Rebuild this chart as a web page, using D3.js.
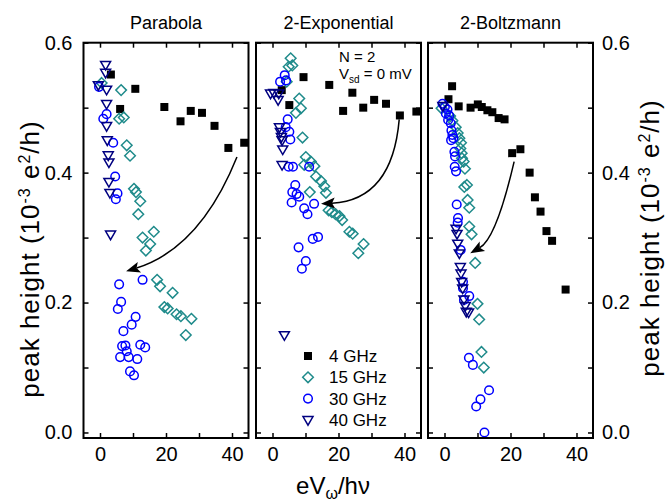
<!DOCTYPE html>
<html><head><meta charset="utf-8">
<script src="https://cdn.jsdelivr.net/npm/d3@7"></script>
<style>
body{margin:0;background:#fff;}
svg{display:block;font-family:"Liberation Sans",Arial,sans-serif;}
</style></head>
<body><svg id="c" width="666" height="502"></svg>
<script>
const panelTitles = ["Parabola", "2-Exponential", "2-Boltzmann"];
const seriesNames = ["4 GHz", "15 GHz", "30 GHz", "40 GHz"];
const xTicks = [0, 10, 20, 30, 40];
const xTickLabels = [0, 20, 40];
const yTicks = [0, 0.1, 0.2, 0.3, 0.4, 0.5, 0.6];
const yTickLabels = [0, 0.2, 0.4, 0.6];

// Parabola panel
const p1_4GHz = [[3.3,0.551],[10.7,0.529],[6.1,0.498],[19.5,0.501],[24.4,0.479],[27.5,0.495],[30.9,0.492],[34.7,0.472],[38.9,0.438],[43.7,0.446]];
const p1_15GHz = [[0.5,0.538],[6.4,0.527],[5.8,0.483],[7.2,0.485],[8.1,0.442],[9.1,0.426],[10.3,0.375],[10.9,0.370],[12.2,0.356],[11.6,0.336],[16.3,0.309],[12.9,0.300],[15.2,0.290],[13.9,0.280],[17.3,0.235],[18.2,0.225],[22.0,0.215],[19.5,0.193],[20.5,0.191],[23.2,0.182],[24.5,0.179],[27.7,0.175],[26.0,0.150]];
const p1_30GHz = [[-0.3,0.532],[2.0,0.490],[1.0,0.483],[4.0,0.446],[4.6,0.394],[5.3,0.368],[4.8,0.359],[5.8,0.228],[12.9,0.235],[6.4,0.201],[5.4,0.190],[10.8,0.178],[9.6,0.166],[7.1,0.156],[6.7,0.133],[7.7,0.134],[12.2,0.135],[13.7,0.131],[8.1,0.125],[6.1,0.116],[8.7,0.116],[11.3,0.113],[9.1,0.094],[10.3,0.088]];
const p1_40GHz = [[1.7,0.566],[1.7,0.554],[-0.5,0.535],[2.0,0.528],[2.0,0.506],[2.0,0.472],[2.2,0.450],[2.5,0.427],[2.7,0.416],[2.7,0.386],[3.0,0.369],[3.2,0.305]];

// 2-Exponential panel
const p2_4GHz = [[9.4,0.547],[2.8,0.527],[5.1,0.504],[17.2,0.535],[24.2,0.523],[21.4,0.495],[27.5,0.500],[30.8,0.512],[34.4,0.506],[38.6,0.488],[43.6,0.494]];
const p2_15GHz = [[5.5,0.576],[6.0,0.565],[4.9,0.563],[4.3,0.540],[8.1,0.514],[8.6,0.499],[7.1,0.492],[9.1,0.454],[10.1,0.424],[11.6,0.417],[12.7,0.410],[9.6,0.412],[13.2,0.394],[14.7,0.387],[15.7,0.379],[11.3,0.370],[16.2,0.369],[17.0,0.342],[18.0,0.339],[19.1,0.336],[20.3,0.333],[21.1,0.327],[23.3,0.309],[24.3,0.306],[27.6,0.290],[26.0,0.276]];
const p2_30GHz = [[3.7,0.550],[2.3,0.540],[4.1,0.542],[4.6,0.482],[4.0,0.470],[5.1,0.463],[5.4,0.451],[6.2,0.409],[4.9,0.409],[11.1,0.409],[6.9,0.381],[6.0,0.370],[8.1,0.363],[7.3,0.367],[5.8,0.354],[9.6,0.345],[10.6,0.336],[12.6,0.352],[7.9,0.285],[12.2,0.298],[13.8,0.301],[10.1,0.264],[8.9,0.252]];
const p2_40GHz = [[-0.6,0.522],[0.4,0.523],[1.9,0.522],[1.7,0.512],[2.1,0.470],[2.4,0.463],[2.7,0.455],[2.9,0.450],[3.1,0.436],[2.9,0.412],[3.6,0.150]];

// 2-Boltzmann panel
const p3_4GHz = [[2.3,0.533],[1.2,0.513],[4.3,0.502],[7.9,0.500],[10.1,0.505],[11.3,0.501],[13.0,0.496],[14.5,0.493],[16.4,0.484],[18.2,0.482],[20.5,0.430],[23.0,0.436],[25.8,0.400],[27.4,0.362],[29.1,0.340],[30.9,0.310],[32.6,0.295],[36.7,0.220]];
const p3_15GHz = [[-0.9,0.499],[1.7,0.487],[2.4,0.480],[3.4,0.470],[4.0,0.461],[4.5,0.453],[5.0,0.446],[4.8,0.437],[5.2,0.430],[5.3,0.422],[5.8,0.417],[6.2,0.406],[6.0,0.378],[6.8,0.381],[7.0,0.358],[7.5,0.346],[7.5,0.317],[8.2,0.305],[9.3,0.261],[10.0,0.198],[10.5,0.174],[11.2,0.124],[11.9,0.100]];
const p3_30GHz = [[-0.6,0.506],[0.1,0.501],[0.9,0.497],[0.4,0.491],[1.4,0.488],[1.1,0.481],[1.9,0.476],[2.1,0.465],[2.4,0.458],[2.7,0.453],[2.0,0.450],[3.0,0.432],[3.2,0.425],[3.1,0.409],[3.5,0.402],[3.7,0.351],[4.1,0.330],[4.0,0.323],[4.9,0.281],[5.6,0.232],[5.6,0.222],[7.5,0.210],[5.9,0.204],[7.4,0.115],[8.6,0.104],[13.5,0.065],[10.9,0.051],[9.6,0.040],[12.1,0.000]];
const p3_40GHz = [[-0.5,0.503],[3.5,0.314],[3.8,0.306],[4.0,0.291],[4.5,0.276],[4.8,0.255],[5.0,0.245],[5.2,0.232],[5.5,0.222],[5.9,0.205],[6.3,0.195],[6.6,0.186],[7.3,0.185]];

// Arrows (start, control, end) in data units
const arrows = [
  [[41.5,0.424],[30.4,0.284],[7.9,0.248]],
  [[38.4,0.482],[36.3,0.358],[14.7,0.352]],
  [[21.1,0.417],[15.7,0.299],[7.8,0.276]]
];

const panels = [
  [p1_4GHz, p1_15GHz, p1_30GHz, p1_40GHz],
  [p2_4GHz, p2_15GHz, p2_30GHz, p2_40GHz],
  [p3_4GHz, p3_15GHz, p3_30GHz, p3_40GHz]
];

const svg = d3.select("#c");
const colors = ["#000000", "#1f8b8b", "#0000ff", "#000080"];
const panelLefts = [83.5, 256, 428];
const panelW = 165;
const yTop = 42.7, yBottom = 438;
const y = d3.scaleLinear().domain([-0.0085, 0.6]).range([yBottom, yTop]);

function markerPath(i) {
  if (i === 0) return "M-4,-4H4V4H-4Z";
  if (i === 1) return "M0,-5.3L5.3,0L0,5.3L-5.3,0Z";
  if (i === 2) { const p = d3.path(); p.arc(0, 0, 4.3, 0, 2 * Math.PI); p.closePath(); return p.toString(); }
  return "M-5,-3.3L5,-3.3L0,5.3Z";
}

panels.forEach((series, pi) => {
  const L = panelLefts[pi];
  const x = d3.scaleLinear().domain([-5, 45]).range([L, L + panelW]);
  const g = svg.append("g");

  const axB = d3.axisBottom(x).tickValues(xTicks).tickSize(-5).tickPadding(9)
    .tickFormat(d => xTickLabels.includes(d) ? d : "");
  const axT = d3.axisTop(x).tickValues(xTicks).tickSize(-5).tickFormat("");
  const axL = d3.axisLeft(y).tickValues(yTicks).tickSize(-5).tickPadding(11)
    .tickFormat(d => (pi === 0 && yTickLabels.some(v => Math.abs(v-d)<1e-9)) ? d3.format(".1f")(d) : "");
  const axR = d3.axisRight(y).tickValues(yTicks).tickSize(-5).tickPadding(9)
    .tickFormat(d => (pi === 2 && yTickLabels.some(v => Math.abs(v-d)<1e-9)) ? d3.format(".1f")(d) : "");

  [[axB, `translate(0,${yBottom})`], [axT, `translate(0,${yTop})`], [axL, `translate(${L},0)`], [axR, `translate(${L+panelW},0)`]]
    .forEach(([ax, tr]) => {
      const a = g.append("g").attr("transform", tr).call(ax);
      a.select(".domain").remove();
      a.selectAll("line").attr("stroke", "#000").attr("stroke-width", 1.5);
      a.selectAll("text").attr("font-size", 20).attr("fill", "#000").attr("font-family", "Liberation Sans, Arial, sans-serif");
    });

  series.forEach((data, si) => {
    g.append("g").selectAll("path").data(data).join("path")
      .attr("d", markerPath(si))
      .attr("transform", d => `translate(${x(d[0])},${y(d[1])})`)
      .attr("fill", si === 0 ? colors[0] : "none")
      .attr("stroke", si === 0 ? "none" : colors[si])
      .attr("stroke-width", 1.5);
  });

  const [s, c, e] = arrows[pi];
  const P0 = [x(s[0]), y(s[1])], C = [x(c[0]), y(c[1])], P2 = [x(e[0]), y(e[1])];
  const dx = P2[0] - C[0], dy = P2[1] - C[1], len = Math.hypot(dx, dy);
  const ux = dx / len, uy = dy / len;
  const hl = 14, hw = 5.5;
  const base = [P2[0] - ux * hl, P2[1] - uy * hl];
  const p = d3.path();
  p.moveTo(P0[0], P0[1]);
  p.quadraticCurveTo(C[0], C[1], base[0] + ux * 3, base[1] + uy * 3);
  g.append("path").attr("d", p.toString()).attr("fill", "none").attr("stroke", "#000").attr("stroke-width", 1.5);
  g.append("path")
    .attr("d", `M${P2[0]},${P2[1]}L${base[0] - uy * hw},${base[1] + ux * hw}L${base[0] + ux*3},${base[1] + uy*3}L${base[0] + uy * hw},${base[1] - ux * hw}Z`)
    .attr("fill", "#000");

  g.append("rect").attr("x", L).attr("y", yTop).attr("width", panelW).attr("height", yBottom - yTop)
    .attr("fill", "none").attr("stroke", "#000").attr("stroke-width", 2);

  svg.append("text").attr("x", L + panelW / 2).attr("y", 29).attr("text-anchor", "middle")
    .attr("font-size", 18).text(panelTitles[pi]);
});

{
  const lx = 308, ly0 = 356, dyL = 21.3;
  seriesNames.forEach((name, si) => {
    const yy = ly0 + si * dyL;
    svg.append("path").attr("d", markerPath(si)).attr("transform", `translate(${lx},${yy})`)
      .attr("fill", si === 0 ? colors[0] : "none").attr("stroke", si === 0 ? "none" : colors[si]).attr("stroke-width", 1.5);
    svg.append("text").attr("x", lx + 21).attr("y", yy + 6).attr("font-size", 17).text(name);
  });
}

svg.append("text").attr("x", 339).attr("y", 62).attr("font-size", 15).text("N = 2");
{
  const t = svg.append("text").attr("x", 339).attr("y", 79).attr("font-size", 15);
  t.append("tspan").text("V");
  t.append("tspan").attr("font-size", 10).attr("dy", 4).text("sd");
  t.append("tspan").attr("dy", -4).text(" = 0 mV");
}

// y labels: centred on cy; baseline at baseX
function yLabel(baseX, cy, target) {
  const t = svg.append("text").attr("font-size", 26);
  t.append("tspan").text("peak height (10");
  t.append("tspan").attr("font-size", 16).attr("dy", -9).text("-3");
  t.append("tspan").attr("dy", 9).text(" e");
  t.append("tspan").attr("font-size", 16).attr("dy", -9).text("2");
  t.append("tspan").attr("dy", 9).text("/h)");
  let len = t.node().getComputedTextLength();
  const nChars = t.text().length;
  const ls = Math.max(-1, Math.min(1, (target - len) / nChars));
  t.attr("letter-spacing", ls);
  len = t.node().getComputedTextLength();
  t.attr("transform", `translate(${baseX},${cy + len / 2}) rotate(-90)`);
}
yLabel(39, 259, 286);
yLabel(659, 238, 280);

{
  const t = svg.append("text").attr("x", 333).attr("y", 494).attr("text-anchor", "middle").attr("font-size", 24);
  t.append("tspan").text("eV");
  t.append("tspan").attr("font-size", 16).attr("dy", 5).text("ω");
  t.append("tspan").attr("dy", -5).text("/hν");
}
</script></body></html>
